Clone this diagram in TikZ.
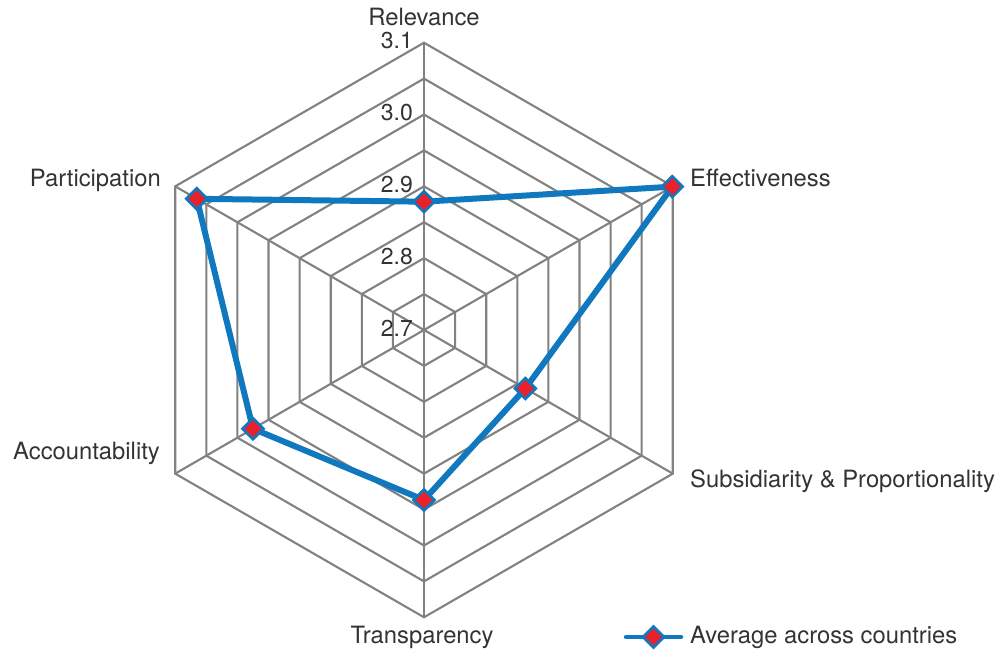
\documentclass[tikz,border=0pt]{standalone}
\usepackage{fontspec}
\setmainfont{TeX Gyre Heros}
\usetikzlibrary{shapes.geometric,calc}
\definecolor{gridc}{HTML}{818181}
\definecolor{datab}{HTML}{0F78BE}
\definecolor{markr}{HTML}{E8212B}
\definecolor{txtc}{HTML}{333333}
\tikzset{
  gridline/.style={draw=gridc, line width=2.1pt, line join=miter},
  dataline/.style={draw=datab, line width=6pt, line join=round},
  marker/.style={diamond, fill=markr, draw=datab, line width=2.6pt, minimum size=22pt, inner sep=0pt},
  axlabel/.style={text=txtc, inner sep=0pt, font=\fontsize{23.8}{28}\selectfont},
  scalelabel/.style={text=txtc, inner sep=0pt, anchor=east, font=\fontsize{23}{27}\selectfont},
}
\begin{document}
\begin{tikzpicture}[x=1pt,y=1pt]
\useasboundingbox (0,0) rectangle (1005,653);
\coordinate (O) at (424,323);
% hexagon rings
\foreach \i in {1,...,8}{
  \pgfmathsetmacro{\r}{\i*35.91}
  \draw[gridline, shift={(O)}] (90:\r) -- (30:\r) -- (-30:\r) -- (-90:\r) -- (-150:\r) -- (150:\r) -- cycle;
}
% spokes
\foreach \a/\n in {90/tR,30/tE,-30/tS,-90/tT,210/tA,150/tP}{
  \coordinate (\n) at ($(O)+(\a:287.3)$);
  \draw[gridline] (O) -- (\n);
}
% scale labels
\node[scalelabel] (s31) at ($(O)+(-11,289)$) {3.1};
\node[scalelabel] (s30) at ($(O)+(-11,217)$) {3.0};
\node[scalelabel] (s29) at ($(O)+(-11,145.5)$) {2.9};
\node[scalelabel] (s28) at ($(O)+(-11,73.5)$) {2.8};
\node[scalelabel] (s27) at ($(O)+(-11,1.5)$) {2.7};
% axis labels
\node[axlabel, anchor=base] (lR) at (424,627) {Relevance};
\node[axlabel, anchor=base east] (lP) at (161,466.5) {Participation};
\node[axlabel, anchor=base west] (lE) at (690,466.5) {Effectiveness};
\node[axlabel, anchor=base west] (lS) at (690,165) {Subsidiarity \& Proportionality};
\node[axlabel, anchor=base east] (lA) at (160,193.5) {Accountability};
\node[axlabel, anchor=base] (lT) at (422,9) {Transparency};
% data
\coordinate (dR) at ($(O)+(90:128.3)$);
\coordinate (dE) at ($(O)+(30:286.7)$);
\coordinate (dS) at ($(O)+(-30:117)$);
\coordinate (dT) at ($(O)+(-90:170)$);
\coordinate (dA) at ($(O)+(210:197.5)$);
\coordinate (dP) at ($(O)+(150:262.4)$);
\draw[dataline] (dR) -- (dE) -- (dS) -- (dT) -- (dA) -- (dP) -- cycle;
\foreach \n in {dR,dE,dS,dT,dA,dP}{
  \node[marker] (m\n) at (\n) {};
}
% legend
\coordinate (lg1) at (626,16);
\coordinate (lg2) at (681,16);
\draw[dataline, line cap=round, line width=4.5pt] (lg1) -- (lg2);
\node[marker] (lgm) at ($(lg1)!0.5!(lg2)$) {};
\node[axlabel, anchor=base west] (lgt) at (690,9) {Average across countries};
\end{tikzpicture}
\end{document}
